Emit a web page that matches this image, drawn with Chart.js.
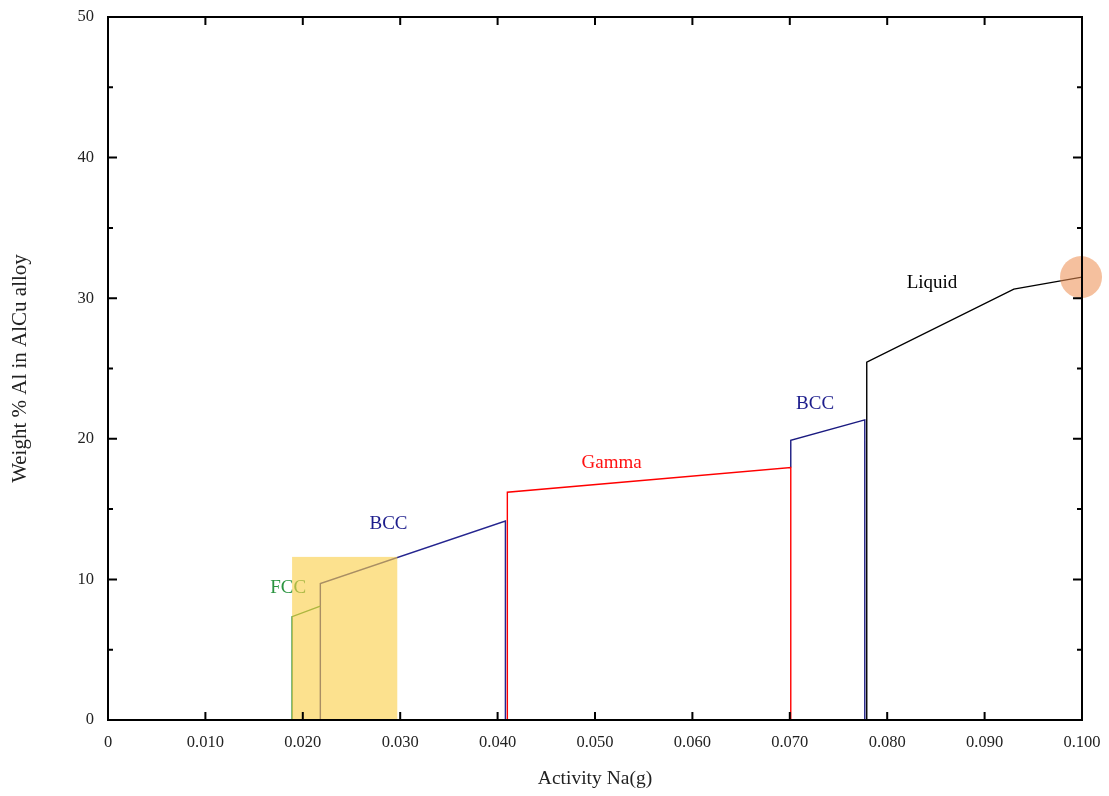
<!DOCTYPE html>
<html>
<head>
<meta charset="utf-8">
<title>Weight % Al vs Activity Na(g)</title>
<script src="https://cdn.jsdelivr.net/npm/chart.js@4.4.1/dist/chart.umd.min.js"></script>
<style>
    html, body { margin: 0; padding: 0; background: #ffffff; }
    #wrap { width: 1109px; height: 796px; }
</style>
</head>
<body>
<div id="wrap"><canvas id="phaseChart" width="1109" height="796"></canvas></div>
<script>
// ==========================
// data
// ==========================
const xTicks = [0, 0.01, 0.02, 0.03, 0.04, 0.05, 0.06, 0.07, 0.08, 0.09, 0.1];
const yTicks = [0, 10, 20, 30, 40, 50];
const yMinorTicks = [5, 15, 25, 35, 45];

// FCC (green)
const fccX = [0.0189, 0.0189, 0.0218];
const fccY = [0, 7.35, 8.1];

// BCC first region (navy)
const bcc1X = [0.0218, 0.0218, 0.0408, 0.0408];
const bcc1Y = [0, 9.7, 14.15, 0];

// Gamma (red)
const gammaX = [0.0410, 0.0410, 0.0701, 0.0701];
const gammaY = [0, 16.2, 17.95, 0];

// BCC second region (navy)
const bcc2X = [0.0701, 0.0701, 0.0777, 0.0777];
const bcc2Y = [17.95, 19.9, 21.35, 0];

// Liquid (black)
const liquidX = [0.0779, 0.0779, 0.0930, 0.1000];
const liquidY = [0, 25.45, 30.65, 31.5];

// phase labels
const phaseNames = ["FCC", "BCC", "Gamma", "BCC", "Liquid"];
const phaseLabelX = [0.0185, 0.0288, 0.0517, 0.0726, 0.0846];
const phaseLabelY = [9.4, 13.95, 18.3, 22.5, 31.1];
const phaseColors = ["#2a9440", "#1c1c8c", "#ff1010", "#1c1c8c", "#000000"];

// highlights
const boxX = [0.0189, 0.0297];
const boxY = [0, 11.6];
const markX = [0.0999];
const markY = [31.5];

const SERIF = '"Liberation Serif", "DejaVu Serif", serif';

function pts(xs, ys) {
    return xs.map((x, i) => ({ x: x, y: ys[i] }));
}

function lineSet(label, xs, ys, color) {
    return {
        label: label,
        data: pts(xs, ys),
        borderColor: color,
        backgroundColor: color,
        borderWidth: 1.4,
        pointRadius: 0,
        tension: 0,
        fill: false
    };
}

// ==========================
// frame + inward ticks, labels, box
// ==========================
const framePlugin = {
    id: "frame",
    afterDatasetsDraw(chart) {
        const ctx = chart.ctx;
        const xs = chart.scales.x;
        const ys = chart.scales.y;
        const a = chart.chartArea;

        // phase labels
        ctx.save();
        ctx.font = "19px " + SERIF;
        ctx.textAlign = "center";
        ctx.textBaseline = "middle";
        phaseNames.forEach((t, i) => {
            ctx.fillStyle = phaseColors[i];
            ctx.fillText(t, xs.getPixelForValue(phaseLabelX[i]), ys.getPixelForValue(phaseLabelY[i]));
        });
        ctx.restore();

        // yellow box
        ctx.save();
        ctx.fillStyle = "rgba(250, 206, 72, 0.62)";
        const bx0 = xs.getPixelForValue(boxX[0]);
        const bx1 = xs.getPixelForValue(boxX[1]);
        const by0 = ys.getPixelForValue(boxY[0]);
        const by1 = ys.getPixelForValue(boxY[1]);
        ctx.fillRect(bx0, by1, bx1 - bx0, by0 - by1);
        ctx.restore();

        // frame
        ctx.save();
        ctx.strokeStyle = "#000000";
        ctx.lineWidth = 2;
        ctx.strokeRect(a.left, a.top, a.right - a.left, a.bottom - a.top);

        ctx.beginPath();
        for (const v of xTicks) {
            const px = xs.getPixelForValue(v);
            ctx.moveTo(px, a.bottom);
            ctx.lineTo(px, a.bottom - 8);
            ctx.moveTo(px, a.top);
            ctx.lineTo(px, a.top + 8);
        }
        for (const v of yTicks) {
            const py = ys.getPixelForValue(v);
            ctx.moveTo(a.left, py);
            ctx.lineTo(a.left + 9, py);
            ctx.moveTo(a.right, py);
            ctx.lineTo(a.right - 9, py);
        }
        for (const v of yMinorTicks) {
            const py = ys.getPixelForValue(v);
            ctx.moveTo(a.left, py);
            ctx.lineTo(a.left + 5, py);
            ctx.moveTo(a.right, py);
            ctx.lineTo(a.right - 5, py);
        }
        ctx.stroke();
        ctx.restore();
    }
};

// ==========================
// chart
// ==========================
function drawPhaseChart() {
    const ctx = document.getElementById("phaseChart");
    if (!ctx) return;

    new Chart(ctx, {
        type: "line",
        data: {
            datasets: [
                {
                    label: "marker",
                    data: pts(markX, markY),
                    showLine: false,
                    pointRadius: 21,
                    pointHoverRadius: 21,
                    pointBorderWidth: 0,
                    backgroundColor: "rgba(236, 140, 78, 0.55)",
                    borderColor: "rgba(236, 140, 78, 0)",
                    clip: false
                },
                lineSet("FCC", fccX, fccY, "#2f8f2f"),
                lineSet("BCC", bcc1X, bcc1Y, "#25258f"),
                lineSet("Gamma", gammaX, gammaY, "#ff0000"),
                lineSet("BCC 2", bcc2X, bcc2Y, "#1a1a80"),
                lineSet("Liquid", liquidX, liquidY, "#000000")
            ]
        },
        options: {
            responsive: false,
            animation: false,
            events: [],
            layout: { autoPadding: false, padding: { top: 17, right: 27, left: 0, bottom: 0 } },
            plugins: {
                legend: { display: false },
                tooltip: { enabled: false }
            },
            scales: {
                x: {
                    type: "linear",
                    min: 0,
                    max: 0.1,
                    grid: { display: false },
                    border: { display: false },
                    afterBuildTicks: (s) => { s.ticks = xTicks.map(v => ({ value: v })); },
                    afterFit: (s) => {
                        s.height = 76;
                        s.paddingLeft = 0;
                        s.paddingRight = 0;
                    },
                    ticks: {
                        color: "#222222",
                        padding: 5,
                        font: { family: SERIF, size: 16.5 },
                        maxRotation: 0,
                        autoSkip: false,
                        callback: (v) => (v === 0 ? "0" : Number(v).toFixed(3))
                    },
                    title: {
                        display: true,
                        text: "Activity Na(g)",
                        color: "#222222",
                        font: { family: SERIF, size: 19.5 },
                        padding: { top: 4, bottom: 5 }
                    }
                },
                y: {
                    type: "linear",
                    min: 0,
                    max: 50,
                    grid: { display: false },
                    border: { display: false },
                    afterBuildTicks: (s) => { s.ticks = yTicks.map(v => ({ value: v })); },
                    afterFit: (s) => {
                        s.width = 108;
                        s.paddingTop = 0;
                        s.paddingBottom = 0;
                    },
                    ticks: {
                        color: "#222222",
                        padding: 6,
                        font: { family: SERIF, size: 16.5 }
                    },
                    title: {
                        display: true,
                        text: "Weight % Al in AlCu alloy",
                        color: "#222222",
                        font: { family: SERIF, size: 21 },
                        padding: { top: 8, bottom: 4 }
                    }
                }
            }
        },
        plugins: [framePlugin]
    });
}

drawPhaseChart();
</script>
</body>
</html>
